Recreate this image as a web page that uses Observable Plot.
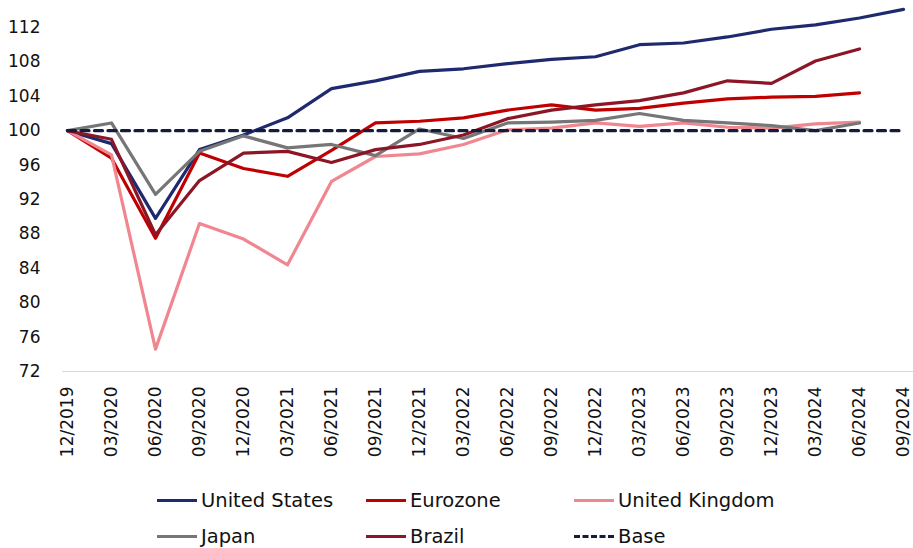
<!DOCTYPE html>
<html>
<head>
<meta charset="utf-8">
<script src="https://cdn.jsdelivr.net/npm/d3@7"></script>
<script src="https://cdn.jsdelivr.net/npm/@observablehq/plot@0.6"></script>
<style>
  html, body { margin: 0; padding: 0; background: #fff; }
  #chart svg { display: block; }
  .legend {
    display: grid;
    grid-template-columns: 209px 208px 220px;
    grid-auto-rows: 36px;
    padding-left: 157px;
    margin-top: 17px;
    font-family: "DejaVu Sans", sans-serif;
    font-size: 19.5px;
    color: #111;
  }
  .item { display: flex; align-items: center; }
  .sw { width: 40px; height: 0; border-top: 3.5px solid; margin-right: 4px; }
  .sw.dash { border-top-style: dashed; }
</style>
</head>
<body>
<div id="chart"></div>
<div class="legend" id="legend"></div>
<script>
const dates = ["12/2019","03/2020","06/2020","09/2020","12/2020","03/2021","06/2021","09/2021","12/2021","03/2022","06/2022","09/2022","12/2022","03/2023","06/2023","09/2023","12/2023","03/2024","06/2024","09/2024"];
const unitedStates = [100, 98.5, 89.8, 97.8, 99.5, 101.5, 104.9, 105.8, 106.9, 107.2, 107.8, 108.3, 108.6, 110.0, 110.2, 110.9, 111.8, 112.3, 113.1, 114.1];
const eurozone = [100, 96.8, 87.5, 97.4, 95.6, 94.7, 97.7, 100.9, 101.1, 101.5, 102.4, 103.0, 102.4, 102.6, 103.2, 103.7, 103.9, 104.0, 104.4];
const unitedKingdom = [100, 97.2, 74.6, 89.2, 87.4, 84.4, 94.1, 97.0, 97.3, 98.4, 100.1, 100.3, 100.9, 100.5, 100.9, 100.4, 100.3, 100.8, 101.0];
const japan = [100, 100.9, 92.6, 97.6, 99.4, 98.0, 98.4, 97.1, 100.2, 99.1, 100.9, 101.0, 101.2, 102.0, 101.2, 100.9, 100.6, 100.0, 100.9];
const brazil = [100, 99.0, 87.9, 94.2, 97.4, 97.6, 96.3, 97.8, 98.4, 99.5, 101.4, 102.4, 103.0, 103.5, 104.4, 105.8, 105.5, 108.1, 109.5];
const base = [100, 100, 100, 100, 100, 100, 100, 100, 100, 100, 100, 100, 100, 100, 100, 100, 100, 100, 100, 100];
const yTicks = [72, 76, 80, 84, 88, 92, 96, 100, 104, 108, 112];

const seriesNames = ["United States", "Eurozone", "United Kingdom", "Japan", "Brazil", "Base"];
const seriesValues = [unitedStates, eurozone, unitedKingdom, japan, brazil, base];
const colors = ["#1f2a6e", "#c00000", "#f0868f", "#767676", "#8c1526", "#141b3d"];

const rows = [];
seriesNames.forEach((name, s) => {
  seriesValues[s].forEach((v, i) => rows.push({series: name, date: dates[i], value: v}));
});

const solid = seriesNames.slice(0, 5);
const marks = [
  Plot.ruleY([72], {stroke: "#d9d9d9", strokeWidth: 1.2})
];
solid.forEach((name, s) => {
  marks.push(Plot.line(rows.filter(d => d.series === name), {
    x: "date", y: "value", stroke: colors[s], strokeWidth: 3.2, strokeLinejoin: "round"
  }));
});
marks.push(Plot.line(rows.filter(d => d.series === "Base"), {
  x: "date", y: "value", stroke: colors[5], strokeWidth: 3.2, strokeDasharray: "8,5.5"
}));

const chart = Plot.plot({
  width: 913,
  height: 465,
  marginLeft: 62,
  marginRight: 0,
  marginTop: 5.5,
  marginBottom: 94,
  style: {fontFamily: "DejaVu Sans, sans-serif", fontSize: "17px", color: "#111", background: "#fff"},
  x: {type: "point", domain: dates, padding: 0, insetLeft: 5, insetRight: 10,
      tickRotate: -90, tickSize: 0, tickPadding: 15, label: null},
  y: {domain: [72, 114.5], ticks: yTicks, tickSize: 0, tickPadding: 22, label: null},
  marks
});
document.getElementById("chart").appendChild(chart);

const legend = document.getElementById("legend");
seriesNames.forEach((name, s) => {
  const item = document.createElement("div");
  item.className = "item";
  const sw = document.createElement("span");
  sw.className = "sw" + (name === "Base" ? " dash" : "");
  sw.style.borderTopColor = colors[s];
  const t = document.createElement("span");
  t.textContent = name;
  item.appendChild(sw);
  item.appendChild(t);
  legend.appendChild(item);
});
</script>
</body>
</html>
